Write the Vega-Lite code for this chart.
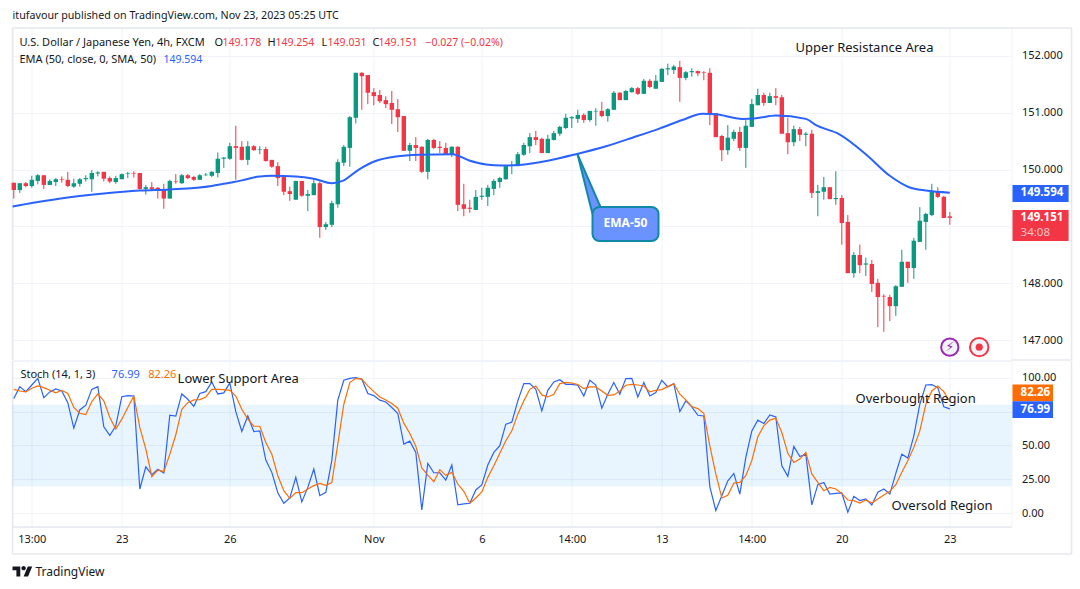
{"$schema":"https://vega.github.io/schema/vega-lite/v6.json","padding":{"left":7.5,"top":9,"right":0,"bottom":5},"bounds":"flush","spacing":1,"background":"#ffffff","config":{"view":{"stroke":"#f0f3fa"},"font":"Noto Sans","axis":{"title":null,"labelFont":"Noto Sans","labelColor":"#131722","labelFontSize":11,"ticks":false,"domain":false,"gridColor":"#f0f3fa","gridWidth":1}},
"datasets":{
"frame":[{"a":-0.217,"b":176.3,"c":152.487,"d":152.487},{"a":166.28,"b":176.3,"c":146.654,"d":146.654},{"a":176.3,"b":176.3,"c":152.487,"d":146.654},{"a":-0.217,"b":-0.217,"c":152.487,"d":146.654}],
"frameB":[{"a":-0.217,"b":176.3,"c":-30,"d":-30},{"a":176.3,"b":176.3,"c":112.3,"d":-30},{"a":-0.217,"b":-0.217,"c":112.3,"d":-30},{"a":-0.217,"b":166.28,"c":-10.1,"d":-10.1}],
"candles":[
{"k":0,"o":149.77,"h":149.77,"l":149.49,"c":149.64},{"k":1,"o":149.64,"h":149.76,"l":149.59,"c":149.76},{"k":2,"o":149.76,"h":149.78,"l":149.69,"c":149.71},{"k":3,"o":149.71,"h":149.89,"l":149.68,"c":149.82},{"k":4,"o":149.8,"h":149.92,"l":149.74,"c":149.9},{"k":5,"o":149.9,"h":149.9,"l":149.66,"c":149.73},{"k":6,"o":149.73,"h":149.83,"l":149.73,"c":149.8},{"k":7,"o":149.78,"h":149.85,"l":149.71,"c":149.83},{"k":8,"o":149.83,"h":149.88,"l":149.77,"c":149.82},{"k":9,"o":149.82,"h":149.96,"l":149.69,"c":149.71},
{"k":10,"o":149.7,"h":149.84,"l":149.68,"c":149.76},{"k":11,"o":149.75,"h":149.85,"l":149.7,"c":149.83},{"k":12,"o":149.83,"h":149.9,"l":149.79,"c":149.85},{"k":13,"o":149.83,"h":149.99,"l":149.61,"c":149.94},{"k":14,"o":149.93,"h":149.97,"l":149.88,"c":149.95},{"k":15,"o":149.96,"h":149.96,"l":149.79,"c":149.84},{"k":16,"o":149.85,"h":149.88,"l":149.76,"c":149.79},{"k":17,"o":149.78,"h":149.89,"l":149.75,"c":149.85},{"k":18,"o":149.83,"h":149.93,"l":149.83,"c":149.92},{"k":19,"o":149.93,"h":149.96,"l":149.85,"c":149.94},
{"k":20,"o":149.94,"h":149.97,"l":149.86,"c":149.93},{"k":21,"o":149.94,"h":149.94,"l":149.65,"c":149.66},{"k":22,"o":149.66,"h":149.73,"l":149.56,"c":149.69},{"k":23,"o":149.69,"h":149.78,"l":149.62,"c":149.66},{"k":24,"o":149.68,"h":149.69,"l":149.49,"c":149.63},{"k":25,"o":149.64,"h":149.75,"l":149.31,"c":149.49},{"k":26,"o":149.49,"h":149.82,"l":149.49,"c":149.8},{"k":27,"o":149.79,"h":149.92,"l":149.75,"c":149.78},{"k":28,"o":149.76,"h":149.92,"l":149.75,"c":149.9},{"k":29,"o":149.9,"h":149.92,"l":149.83,"c":149.85},
{"k":30,"o":149.87,"h":149.89,"l":149.8,"c":149.82},{"k":31,"o":149.82,"h":149.92,"l":149.82,"c":149.9},{"k":32,"o":149.9,"h":149.94,"l":149.89,"c":149.91},{"k":33,"o":149.89,"h":149.97,"l":149.87,"c":149.96},{"k":34,"o":149.94,"h":150.3,"l":149.86,"c":150.19},{"k":35,"o":150.19,"h":150.22,"l":150.03,"c":150.21},{"k":36,"o":150.19,"h":150.47,"l":150.17,"c":150.41},{"k":37,"o":150.41,"h":150.77,"l":149.82,"c":150.38},{"k":38,"o":150.4,"h":150.5,"l":150.16,"c":150.17},{"k":39,"o":150.17,"h":150.5,"l":150.08,"c":150.41},
{"k":40,"o":150.41,"h":150.43,"l":150.33,"c":150.34},{"k":41,"o":150.35,"h":150.41,"l":150.27,"c":150.36},{"k":42,"o":150.36,"h":150.4,"l":150.14,"c":150.15},{"k":43,"o":150.17,"h":150.17,"l":150.03,"c":150.05},{"k":44,"o":150.06,"h":150.13,"l":149.71,"c":149.85},{"k":45,"o":149.87,"h":149.9,"l":149.55,"c":149.61},{"k":46,"o":149.62,"h":149.7,"l":149.45,"c":149.57},{"k":47,"o":149.47,"h":149.8,"l":149.47,"c":149.8},{"k":48,"o":149.8,"h":149.8,"l":149.52,"c":149.54},{"k":49,"o":149.54,"h":149.64,"l":149.27,"c":149.57},
{"k":50,"o":149.55,"h":149.85,"l":149.55,"c":149.76},{"k":51,"o":149.76,"h":149.79,"l":148.8,"c":148.99},{"k":52,"o":148.99,"h":149.08,"l":148.94,"c":149.04},{"k":53,"o":149.03,"h":149.45,"l":148.99,"c":149.41},{"k":54,"o":149.39,"h":150.18,"l":149.33,"c":150.13},{"k":55,"o":150.12,"h":150.43,"l":150.06,"c":150.4},{"k":56,"o":150.38,"h":150.94,"l":150.05,"c":150.92},{"k":57,"o":150.91,"h":151.7,"l":150.81,"c":151.7},{"k":58,"o":151.7,"h":151.71,"l":151.05,"c":151.64},{"k":59,"o":151.66,"h":151.66,"l":151.15,"c":151.35},
{"k":60,"o":151.36,"h":151.43,"l":151.13,"c":151.29},{"k":61,"o":151.31,"h":151.4,"l":151.17,"c":151.2},{"k":62,"o":151.22,"h":151.29,"l":151.08,"c":151.15},{"k":63,"o":151.17,"h":151.38,"l":150.8,"c":151.05},{"k":64,"o":151.06,"h":151.24,"l":150.66,"c":150.92},{"k":65,"o":150.94,"h":150.94,"l":150.33,"c":150.33},{"k":66,"o":150.33,"h":150.47,"l":150.15,"c":150.43},{"k":67,"o":150.43,"h":150.57,"l":150.15,"c":150.38},{"k":68,"o":150.4,"h":150.41,"l":149.94,"c":149.96},{"k":69,"o":149.96,"h":150.54,"l":149.83,"c":150.52},
{"k":70,"o":150.52,"h":150.54,"l":150.36,"c":150.38},{"k":71,"o":150.4,"h":150.5,"l":150.29,"c":150.38},{"k":72,"o":150.38,"h":150.47,"l":150.26,"c":150.26},{"k":73,"o":150.26,"h":150.41,"l":150.22,"c":150.4},{"k":74,"o":150.4,"h":150.41,"l":149.27,"c":149.38},{"k":75,"o":149.39,"h":149.75,"l":149.18,"c":149.31},{"k":76,"o":149.33,"h":149.47,"l":149.24,"c":149.31},{"k":77,"o":149.29,"h":149.64,"l":149.29,"c":149.52},{"k":78,"o":149.52,"h":149.68,"l":149.47,"c":149.54},{"k":79,"o":149.52,"h":149.73,"l":149.36,"c":149.68},
{"k":80,"o":149.66,"h":149.83,"l":149.55,"c":149.8},{"k":81,"o":149.78,"h":149.87,"l":149.68,"c":149.85},{"k":82,"o":149.83,"h":150.08,"l":149.82,"c":150.06},{"k":83,"o":150.07,"h":150.15,"l":149.92,"c":150.08},{"k":84,"o":150.06,"h":150.31,"l":150.06,"c":150.27},{"k":85,"o":150.26,"h":150.47,"l":150.24,"c":150.43},{"k":86,"o":150.41,"h":150.64,"l":150.29,"c":150.57},{"k":87,"o":150.57,"h":150.68,"l":150.43,"c":150.52},{"k":88,"o":150.54,"h":150.56,"l":150.29,"c":150.29},{"k":89,"o":150.29,"h":150.61,"l":150.29,"c":150.54},
{"k":90,"o":150.52,"h":150.68,"l":150.51,"c":150.64},{"k":91,"o":150.63,"h":150.77,"l":150.59,"c":150.75},{"k":92,"o":150.73,"h":150.98,"l":150.71,"c":150.91},{"k":93,"o":150.9,"h":150.94,"l":150.73,"c":150.92},{"k":94,"o":150.89,"h":151.05,"l":150.82,"c":150.96},{"k":95,"o":150.96,"h":150.99,"l":150.82,"c":150.87},{"k":96,"o":150.87,"h":151.03,"l":150.84,"c":151.03},{"k":97,"o":151.02,"h":151.08,"l":150.77,"c":151.03},{"k":98,"o":151.03,"h":151.19,"l":150.92,"c":150.94},{"k":99,"o":150.94,"h":151.08,"l":150.84,"c":151.06},
{"k":100,"o":151.05,"h":151.38,"l":151.05,"c":151.35},{"k":101,"o":151.35,"h":151.36,"l":151.22,"c":151.22},{"k":102,"o":151.22,"h":151.4,"l":151.22,"c":151.38},{"k":103,"o":151.36,"h":151.45,"l":151.35,"c":151.43},{"k":104,"o":151.43,"h":151.45,"l":151.31,"c":151.33},{"k":105,"o":151.33,"h":151.59,"l":151.33,"c":151.56},{"k":106,"o":151.56,"h":151.59,"l":151.43,"c":151.45},{"k":107,"o":151.42,"h":151.66,"l":151.42,"c":151.56},{"k":108,"o":151.54,"h":151.78,"l":151.54,"c":151.77},{"k":109,"o":151.76,"h":151.86,"l":151.66,"c":151.78},
{"k":110,"o":151.75,"h":151.84,"l":151.68,"c":151.81},{"k":111,"o":151.8,"h":151.91,"l":151.19,"c":151.61},{"k":112,"o":151.61,"h":151.73,"l":151.57,"c":151.71},{"k":113,"o":151.71,"h":151.78,"l":151.63,"c":151.73},{"k":114,"o":151.73,"h":151.74,"l":151.64,"c":151.69},{"k":115,"o":151.71,"h":151.73,"l":151.57,"c":151.7},{"k":116,"o":151.7,"h":151.78,"l":150.78,"c":150.98},{"k":117,"o":150.99,"h":150.99,"l":150.57,"c":150.57},{"k":118,"o":150.59,"h":150.61,"l":150.15,"c":150.34},{"k":119,"o":150.34,"h":150.78,"l":150.26,"c":150.56},
{"k":120,"o":150.54,"h":150.7,"l":150.5,"c":150.66},{"k":121,"o":150.66,"h":150.75,"l":150.33,"c":150.38},{"k":122,"o":150.38,"h":150.87,"l":150.03,"c":150.77},{"k":123,"o":150.75,"h":151.24,"l":150.75,"c":151.15},{"k":124,"o":151.13,"h":151.42,"l":151.13,"c":151.31},{"k":125,"o":151.31,"h":151.35,"l":151.12,"c":151.17},{"k":126,"o":151.17,"h":151.35,"l":151.17,"c":151.29},{"k":127,"o":151.29,"h":151.43,"l":151.13,"c":151.26},{"k":128,"o":151.27,"h":151.31,"l":150.63,"c":150.63},{"k":129,"o":150.64,"h":150.91,"l":150.27,"c":150.48},
{"k":130,"o":150.48,"h":150.77,"l":150.41,"c":150.71},{"k":131,"o":150.71,"h":150.75,"l":150.5,"c":150.61},{"k":132,"o":150.61,"h":150.66,"l":150.41,"c":150.63},{"k":133,"o":150.63,"h":150.7,"l":149.5,"c":149.59},{"k":134,"o":149.59,"h":149.73,"l":149.18,"c":149.62},{"k":135,"o":149.61,"h":149.87,"l":149.47,"c":149.69},{"k":136,"o":149.69,"h":149.69,"l":149.48,"c":149.48},{"k":137,"o":149.48,"h":149.97,"l":149.38,"c":149.5},{"k":138,"o":149.5,"h":149.55,"l":148.68,"c":149.06},{"k":139,"o":149.08,"h":149.2,"l":148.18,"c":148.18},
{"k":140,"o":148.18,"h":148.55,"l":148.1,"c":148.5},{"k":141,"o":148.5,"h":148.68,"l":148.18,"c":148.32},{"k":142,"o":148.33,"h":148.45,"l":148.13,"c":148.35},{"k":143,"o":148.34,"h":148.41,"l":147.85,"c":147.99},{"k":144,"o":148.01,"h":148.08,"l":147.23,"c":147.76},{"k":145,"o":147.78,"h":147.81,"l":147.15,"c":147.77},{"k":146,"o":147.76,"h":147.8,"l":147.34,"c":147.6},{"k":147,"o":147.6,"h":147.97,"l":147.43,"c":147.95},{"k":148,"o":147.94,"h":148.59,"l":147.94,"c":148.38},{"k":149,"o":148.38,"h":148.38,"l":148.01,"c":148.27},
{"k":150,"o":148.27,"h":148.8,"l":148.08,"c":148.75},{"k":151,"o":148.73,"h":149.34,"l":148.73,"c":149.1},{"k":152,"o":149.08,"h":149.24,"l":148.59,"c":149.22},{"k":153,"o":149.2,"h":149.75,"l":149.18,"c":149.62},{"k":154,"o":149.61,"h":149.69,"l":149.5,"c":149.52},{"k":155,"o":149.52,"h":149.54,"l":149.15,"c":149.15},{"k":156,"o":149.178,"h":149.254,"l":149.031,"c":149.151}],
"ema":[{"k":-0.2,"v":149.35},{"k":3.5,"v":149.42},{"k":9,"v":149.51},{"k":15,"v":149.58},{"k":21,"v":149.63},{"k":26,"v":149.65},{"k":33,"v":149.71},{"k":36,"v":149.77},{"k":38,"v":149.81},{"k":41,"v":149.88},{"k":43,"v":149.89},{"k":47,"v":149.88},{"k":50,"v":149.84},{"k":53,"v":149.76},{"k":54.8,"v":149.8},{"k":57.5,"v":150},{"k":60.3,"v":150.15},{"k":63.7,"v":150.23},{"k":67.6,"v":150.26},{"k":73.1,"v":150.27},{"k":75.9,"v":150.16},{"k":78.7,"v":150.09},{"k":81.4,"v":150.07},{"k":84.2,"v":150.08},{"k":89.2,"v":150.16},{"k":93.7,"v":150.27},{"k":98.7,"v":150.41},{"k":103.1,"v":150.56},{"k":107.6,"v":150.72},{"k":111.4,"v":150.87},{"k":114.8,"v":150.98},{"k":117,"v":150.97},{"k":121.4,"v":150.89},{"k":123.7,"v":150.9},{"k":127,"v":150.95},{"k":132,"v":150.89},{"k":133.7,"v":150.78},{"k":137.6,"v":150.62},{"k":142,"v":150.27},{"k":146,"v":149.89},{"k":149.2,"v":149.69},{"k":152,"v":149.63},{"k":156,"v":149.594}],
"stoch":[{"k":0,"s":84.6,"d":91.4},{"k":1,"s":93.4,"d":90.2},{"k":2,"s":89.7,"d":89.5},{"k":3,"s":94.6,"d":92.2},{"k":4,"s":99.5,"d":93.9},{"k":5,"s":85.3,"d":92.7},{"k":6,"s":89.5,"d":90.7},{"k":7,"s":91.7,"d":88.8},{"k":8,"s":90.2,"d":90.7},{"k":9,"s":81.6,"d":88.3},
{"k":10,"s":62.8,"d":78},{"k":11,"s":76.2,"d":73.8},{"k":12,"s":79.7,"d":72.8},{"k":13,"s":91.4,"d":82.4},{"k":14,"s":93.4,"d":88},{"k":15,"s":63.8,"d":82.9},{"k":16,"s":57.4,"d":70.6},{"k":17,"s":64.5,"d":62.1},{"k":18,"s":86,"d":69.4},{"k":19,"s":86.8,"d":78},
{"k":20,"s":86.5,"d":86.5},{"k":21,"s":17.9,"d":63.3},{"k":22,"s":34.3,"d":47.3},{"k":23,"s":28.5,"d":27},{"k":24,"s":32.4,"d":31.9},{"k":25,"s":29.7,"d":30.7},{"k":26,"s":72.3,"d":43.6},{"k":27,"s":71.6,"d":57.9},{"k":28,"s":88,"d":76.7},{"k":29,"s":84.1,"d":81.6},
{"k":30,"s":78.9,"d":83.6},{"k":31,"s":88.3,"d":83.8},{"k":32,"s":89.7,"d":85.8},{"k":33,"s":96.8,"d":91.4},{"k":34,"s":88,"d":91.4},{"k":35,"s":88.8,"d":91.2},{"k":36,"s":96.1,"d":90.7},{"k":37,"s":75,"d":86.5},{"k":38,"s":60.3,"d":76.7},{"k":39,"s":71.8,"d":69.4},
{"k":40,"s":60.3,"d":64.2},{"k":41,"s":60.8,"d":64.2},{"k":42,"s":39.2,"d":52.2},{"k":43,"s":30.2,"d":43.6},{"k":44,"s":15.2,"d":27.7},{"k":45,"s":7.4,"d":16.7},{"k":46,"s":11.3,"d":11},{"k":47,"s":26.5,"d":15.2},{"k":48,"s":8.4,"d":15.2},{"k":49,"s":19.1,"d":17.9},
{"k":50,"s":32.6,"d":20.4},{"k":51,"s":13,"d":22.1},{"k":52,"s":15.5,"d":20.6},{"k":53,"s":38.8,"d":22.6},{"k":54,"s":83.4,"d":51},{"k":55,"s":98.1,"d":80.4},{"k":56,"s":99.5,"d":96.4},{"k":57,"s":100,"d":99.5},{"k":58,"s":98.8,"d":99},{"k":59,"s":88.3,"d":93.9},
{"k":60,"s":86.8,"d":89.7},{"k":61,"s":83.4,"d":85.8},{"k":62,"s":82.1,"d":83.6},{"k":63,"s":78,"d":81},{"k":64,"s":73.6,"d":77.5},{"k":65,"s":51,"d":66.5},{"k":66,"s":53.2,"d":58.9},{"k":67,"s":44.9,"d":49.5},{"k":68,"s":2.5,"d":33.4},{"k":69,"s":36.8,"d":28.2},
{"k":70,"s":29.9,"d":23.3},{"k":71,"s":29.9,"d":32.2},{"k":72,"s":24.5,"d":28},{"k":73,"s":35.6,"d":30.2},{"k":74,"s":6.2,"d":21.6},{"k":75,"s":6.9,"d":16.2},{"k":76,"s":7.4,"d":7.4},{"k":77,"s":17.2,"d":11.3},{"k":78,"s":20.9,"d":15.7},{"k":79,"s":35.6,"d":26.5},
{"k":80,"s":44.9,"d":35.1},{"k":81,"s":49.8,"d":44.2},{"k":82,"s":65.7,"d":53.5},{"k":83,"s":67.2,"d":60.8},{"k":84,"s":82.9,"d":73.1},{"k":85,"s":95.6,"d":82.9},{"k":86,"s":95.6,"d":91.4},{"k":87,"s":91.4,"d":93.9},{"k":88,"s":75.5,"d":87.3},{"k":89,"s":90.7,"d":85.8},
{"k":90,"s":96.8,"d":87.8},{"k":91,"s":98.5,"d":95.6},{"k":92,"s":95.1,"d":96.6},{"k":93,"s":95.1,"d":96.1},{"k":94,"s":94.4,"d":94.9},{"k":95,"s":86.5,"d":91.9},{"k":96,"s":98.1,"d":93.2},{"k":97,"s":94.6,"d":93.2},{"k":98,"s":77.5,"d":90.2},{"k":99,"s":87.8,"d":87},
{"k":100,"s":96.4,"d":87.3},{"k":101,"s":87.8,"d":90.2},{"k":102,"s":99.3,"d":94.4},{"k":103,"s":99.5,"d":95.1},{"k":104,"s":85.8,"d":94.6},{"k":105,"s":96.4,"d":93.9},{"k":106,"s":86.5,"d":89.5},{"k":107,"s":89,"d":90.7},{"k":108,"s":98.1,"d":91.2},{"k":109,"s":93.2,"d":93.6},
{"k":110,"s":95.6,"d":95.6},{"k":111,"s":75,"d":87.8},{"k":112,"s":82.9,"d":83.6},{"k":113,"s":78.5,"d":78.7},{"k":114,"s":72.3,"d":77.2},{"k":115,"s":71.8,"d":73.8},{"k":116,"s":19.7,"d":49.8},{"k":117,"s":2,"d":29},{"k":118,"s":13,"d":11.3},{"k":119,"s":24,"d":13.3},
{"k":120,"s":29.4,"d":22.3},{"k":121,"s":14.2,"d":22.8},{"k":122,"s":41.2,"d":27.7},{"k":123,"s":60.8,"d":38.8},{"k":124,"s":68.7,"d":56.4},{"k":125,"s":66.2,"d":64.5},{"k":126,"s":72.6,"d":68.7},{"k":127,"s":71.1,"d":70.1},{"k":128,"s":35.1,"d":59.6},{"k":129,"s":27.2,"d":44.2},
{"k":130,"s":49.3,"d":37.5},{"k":131,"s":41.9,"d":40},{"k":132,"s":43.6,"d":44.9},{"k":133,"s":6.2,"d":29},{"k":134,"s":21.1,"d":22.8},{"k":135,"s":22.8,"d":16.7},{"k":136,"s":14.2,"d":19.1},{"k":137,"s":14.7,"d":17.9},{"k":138,"s":15,"d":14.7},{"k":139,"s":0.8,"d":9.8},
{"k":140,"s":12.5,"d":9.3},{"k":141,"s":9.4,"d":7.6},{"k":142,"s":10.6,"d":9.8},{"k":143,"s":6.2,"d":7.6},{"k":144,"s":15.5,"d":10.6},{"k":145,"s":17.9,"d":13.5},{"k":146,"s":14.2,"d":16.2},{"k":147,"s":29.4,"d":21.1},{"k":148,"s":43.6,"d":30.2},{"k":149,"s":40.7,"d":38.8},
{"k":150,"s":57.1,"d":48.6},{"k":151,"s":80.4,"d":60.8},{"k":152,"s":94.6,"d":80.4},{"k":153,"s":94.9,"d":90.2},{"k":154,"s":92.7,"d":93.9},{"k":155,"s":78.5,"d":89.7},{"k":156,"s":76.99,"d":82.26}]
},
"vconcat":[
{"width":999,"height":332,
"encoding":{"x":{"field":"k","type":"quantitative","scale":{"domain":[-0.217,166.28],"nice":false,"zero":false,"padding":0},"axis":{"values":[3,18,36,60,78,93,108,123,138,156],"labels":false,"grid":true,"title":null}}},
"layer":[
{"data":{"name":"frame"},"mark":{"type":"rule","color":"#e6e8ef","strokeWidth":1.5},"encoding":{"x":{"field":"a","type":"quantitative"},"x2":{"field":"b"},"y":{"field":"c","type":"quantitative"},"y2":{"field":"d"}}},
{"data":{"values":[{"p":149.151}]},"mark":{"type":"rule","color":"#F23645","strokeDash":[1,3],"strokeWidth":1},"encoding":{"x":{"datum":-0.217},"x2":{"datum":166.28},"y":{"field":"p","type":"quantitative","scale":{"domain":[146.654,152.487],"nice":false,"zero":false},"axis":{"orient":"right","values":[147,148,149,150,151,152],"labelExpr":"datum.value==149?'':format(datum.value,'.3f')","labelPadding":10,"grid":true,"title":null}}}},
{"data":{"name":"candles"},"mark":{"type":"rule","strokeWidth":1},"encoding":{"y":{"field":"l","type":"quantitative"},"y2":{"field":"h"},"color":{"condition":{"test":"datum.c>=datum.o","value":"#089981"},"value":"#F23645"}}},
{"data":{"name":"candles"},"mark":{"type":"bar","size":4.4},"encoding":{"y":{"field":"o","type":"quantitative"},"y2":{"field":"c"},"color":{"condition":{"test":"datum.c>=datum.o","value":"#089981"},"value":"#F23645"}}},
{"data":{"name":"ema"},"mark":{"type":"line","color":"#2962FF","strokeWidth":2,"interpolate":"monotone"},"encoding":{"y":{"field":"v","type":"quantitative"}}},
{"data":{"values":[{"k":93.95,"a":150.268,"b":150.268},{"k":96.45,"a":149.665,"b":149.219},{"k":97.78,"a":149.342,"b":149.219}]},"mark":{"type":"area","color":"#6A93FF"},"encoding":{"y":{"field":"a","type":"quantitative"},"y2":{"field":"b"}}},
{"data":{"values":[{"k":93.95,"a":150.268},{"k":97.78,"a":149.342}]},"mark":{"type":"line","color":"#0E8AA8","strokeWidth":2},"encoding":{"y":{"field":"a","type":"quantitative"}}},
{"data":{"values":[{"k":93.95,"a":150.268},{"k":96.45,"a":149.219}]},"mark":{"type":"line","color":"#0E8AA8","strokeWidth":2},"encoding":{"y":{"field":"a","type":"quantitative"}}},
{"data":{"values":[{"a":96.45,"b":107.45,"c":149.342,"d":148.745}]},"mark":{"type":"rect","fill":"#6A93FF","stroke":"#0E8AA8","strokeWidth":2,"cornerRadius":7},"encoding":{"x":{"field":"a","type":"quantitative"},"x2":{"field":"b"},"y":{"field":"c","type":"quantitative"},"y2":{"field":"d"}}},
{"data":{"values":[{"k":101.95,"p":149.06,"t":"EMA-50"}]},"mark":{"type":"text","color":"#ffffff","fontSize":12,"font":"Noto Sans","fontWeight":"bold"},"encoding":{"y":{"field":"p","type":"quantitative"},"text":{"field":"t"}}},
{"data":{"values":[{"a":166.45,"b":175.8,"c":149.73,"d":149.43}]},"mark":{"type":"rect","fill":"#2962FF"},"encoding":{"x":{"field":"a","type":"quantitative"},"x2":{"field":"b"},"y":{"field":"c","type":"quantitative"},"y2":{"field":"d"}}},
{"data":{"values":[{"a":166.45,"b":175.8,"c":149.29,"d":148.745}]},"mark":{"type":"rect","fill":"#F23645"},"encoding":{"x":{"field":"a","type":"quantitative"},"x2":{"field":"b"},"y":{"field":"c","type":"quantitative"},"y2":{"field":"d"}}},
{"data":{"values":[{"k":167.8,"p":149.58,"t":"149.594"},{"k":167.8,"p":149.155,"t":"149.151"}]},"mark":{"type":"text","color":"#ffffff","align":"left","fontSize":11.5,"fontWeight":"bold"},"encoding":{"y":{"field":"p","type":"quantitative"},"text":{"field":"t"}}},
{"data":{"values":[{"k":167.8,"p":148.89,"t":"34:08"}]},"mark":{"type":"text","color":"#FBC4C9","align":"left","fontSize":11.5},"encoding":{"y":{"field":"p","type":"quantitative"},"text":{"field":"t"}}},
{"data":{"values":[{"k":-0.2,"p":152.697,"t":"itufavour published on TradingView.com, Nov 23, 2023 05:25 UTC"}]},"mark":{"type":"text","color":"#131722","align":"left","fontSize":10.7},"encoding":{"y":{"field":"p","type":"quantitative"},"text":{"field":"t"}}},
{"data":{"values":[{"k":0.95,"p":152.223,"t":"U.S. Dollar / Japanese Yen, 4h, FXCM"},{"k":33.45,"p":152.223,"t":"O"},{"k":42.28,"p":152.223,"t":"H"},{"k":51.3,"p":152.223,"t":"L"},{"k":59.8,"p":152.223,"t":"C"},{"k":0.95,"p":151.924,"t":"EMA (50, close, 0, SMA, 50)"}]},"mark":{"type":"text","color":"#131722","align":"left","fontSize":11},"encoding":{"y":{"field":"p","type":"quantitative"},"text":{"field":"t"}}},
{"data":{"values":[{"k":34.78,"t":"149.178"},{"k":43.6,"t":"149.254"},{"k":52.3,"t":"149.031"},{"k":60.8,"t":"149.151"},{"k":68.6,"t":"−0.027 (−0.02%)"}]},"mark":{"type":"text","color":"#F23645","align":"left","fontSize":10.5},"encoding":{"y":{"datum":152.223},"text":{"field":"t"}}},
{"data":{"values":[{"k":24.95,"t":"149.594"}]},"mark":{"type":"text","color":"#2962FF","align":"left","fontSize":10.5},"encoding":{"y":{"datum":151.924},"text":{"field":"t"}}},
{"data":{"values":[{"k":130.3,"t":"Upper Resistance Area"}]},"mark":{"type":"text","color":"#131722","align":"left","fontSize":13},"encoding":{"y":{"datum":152.135},"text":{"field":"t"}}},
{"data":{"values":[{"k":156,"p":146.88}]},"mark":{"type":"point","shape":"circle","size":300,"fill":"#f0f3fa","opacity":1,"stroke":"#9C27B0","strokeWidth":2},"encoding":{"y":{"field":"p","type":"quantitative"}}},
{"data":{"values":[{"k":156,"p":146.88,"t":"⚡"}]},"mark":{"type":"text","color":"#9C27B0","font":"DejaVu Sans","fontSize":13},"encoding":{"y":{"field":"p","type":"quantitative"},"text":{"field":"t"}}},
{"data":{"values":[{"k":160.9,"p":146.88}]},"mark":{"type":"point","shape":"circle","size":340,"fill":"#f0f3fa","opacity":1,"stroke":"#F23645","strokeWidth":2},"encoding":{"y":{"field":"p","type":"quantitative"}}},
{"data":{"values":[{"k":160.9,"p":146.88}]},"mark":{"type":"point","shape":"circle","size":50,"fill":"#F23645","opacity":1,"stroke":null},"encoding":{"y":{"field":"p","type":"quantitative"}}}
]},
{"width":999,"height":166,
"encoding":{"x":{"field":"k","type":"quantitative","scale":{"domain":[-0.217,166.28],"nice":false,"zero":false},"axis":{"values":[3,18,36,60,78,93,108,123,138,156],"labelExpr":"{3:'13:00',18:'23',36:'26',60:'Nov',78:'6',93:'14:00',108:'13',123:'14:00',138:'20',156:'23'}[datum.value]","labelPadding":6,"grid":true,"title":null}}},
"layer":[
{"data":{"name":"frameB"},"mark":{"type":"rule","color":"#e6e8ef","strokeWidth":1.5},"encoding":{"x":{"field":"a","type":"quantitative"},"x2":{"field":"b"},"y":{"field":"c","type":"quantitative"},"y2":{"field":"d"}}},
{"data":{"values":[{"a":-0.217,"b":166.28,"c":80,"d":20}]},"mark":{"type":"rect","fill":"#2196F3","opacity":0.1},"encoding":{"x":{"field":"a","type":"quantitative"},"x2":{"field":"b"},"y":{"field":"c","type":"quantitative","scale":{"domain":[-10.1,112.3],"nice":false,"zero":false},"axis":{"orient":"right","values":[0,25,50,75,100],"labelExpr":"datum.value==75?'':format(datum.value,'.2f')","labelPadding":10,"grid":true,"title":null}},"y2":{"field":"d"}}},
{"data":{"values":[{"v":80},{"v":50},{"v":20}]},"mark":{"type":"rule","color":"#787B86","strokeDash":[5,4],"strokeWidth":1},"encoding":{"x":{"datum":-0.217},"x2":{"datum":166.28},"y":{"field":"v","type":"quantitative"}}},
{"data":{"name":"stoch"},"mark":{"type":"line","color":"#2962FF","strokeWidth":1.2},"encoding":{"y":{"field":"s","type":"quantitative"}}},
{"data":{"name":"stoch"},"mark":{"type":"line","color":"#FF6D00","strokeWidth":1.2},"encoding":{"y":{"field":"d","type":"quantitative"}}},
{"data":{"values":[{"a":166.45,"b":173.2,"c":94.9,"d":82.6}]},"mark":{"type":"rect","fill":"#FF6D00"},"encoding":{"x":{"field":"a","type":"quantitative"},"x2":{"field":"b"},"y":{"field":"c","type":"quantitative"},"y2":{"field":"d"}}},
{"data":{"values":[{"a":166.45,"b":173.2,"c":82.6,"d":70.3}]},"mark":{"type":"rect","fill":"#2962FF"},"encoding":{"x":{"field":"a","type":"quantitative"},"x2":{"field":"b"},"y":{"field":"c","type":"quantitative"},"y2":{"field":"d"}}},
{"data":{"values":[{"k":167.8,"v":88.7,"t":"82.26"},{"k":167.8,"v":76.4,"t":"76.99"}]},"mark":{"type":"text","color":"#ffffff","align":"left","fontSize":11.5,"fontWeight":"bold"},"encoding":{"y":{"field":"v","type":"quantitative"},"text":{"field":"t"}}},
{"data":{"values":[{"k":1.1,"v":101.8,"t":"Stoch (14, 1, 3)"}]},"mark":{"type":"text","color":"#131722","align":"left","fontSize":11},"encoding":{"y":{"field":"v","type":"quantitative"},"text":{"field":"t"}}},
{"data":{"values":[{"k":16.3,"v":101.8,"t":"76.99"}]},"mark":{"type":"text","color":"#2962FF","align":"left","fontSize":11},"encoding":{"y":{"field":"v","type":"quantitative"},"text":{"field":"t"}}},
{"data":{"values":[{"k":22.4,"v":101.8,"t":"82.26"}]},"mark":{"type":"text","color":"#FF6D00","align":"left","fontSize":11},"encoding":{"y":{"field":"v","type":"quantitative"},"text":{"field":"t"}}},
{"data":{"values":[{"k":27.3,"v":99,"t":"Lower Support Area"},{"k":140.3,"v":84.3,"t":"Overbought Region"},{"k":146.3,"v":5.4,"t":"Oversold Region"}]},"mark":{"type":"text","color":"#131722","align":"left","fontSize":13},"encoding":{"y":{"field":"v","type":"quantitative"},"text":{"field":"t"}}},
{"data":{"values":[{"k":1.45,"v":-43.3}]},"mark":{"type":"point","shape":"M-.222,.444H-.611V-.167H-1V-.556H-.222ZM.556,.444H.111L.528,-.556H.972ZM-.111,-.389a.222,.222 0 1,0 .444,0a.222,.222 0 1,0 -.444,0Z","size":400,"filled":true,"color":"#131722","opacity":1,"strokeWidth":0},"encoding":{"y":{"field":"v","type":"quantitative"}}},
{"data":{"values":[{"k":3.6,"v":-43.3,"t":"TradingView"}]},"mark":{"type":"text","color":"#131722","align":"left","fontSize":12},"encoding":{"y":{"field":"v","type":"quantitative"},"text":{"field":"t"}}}
]}
]}
